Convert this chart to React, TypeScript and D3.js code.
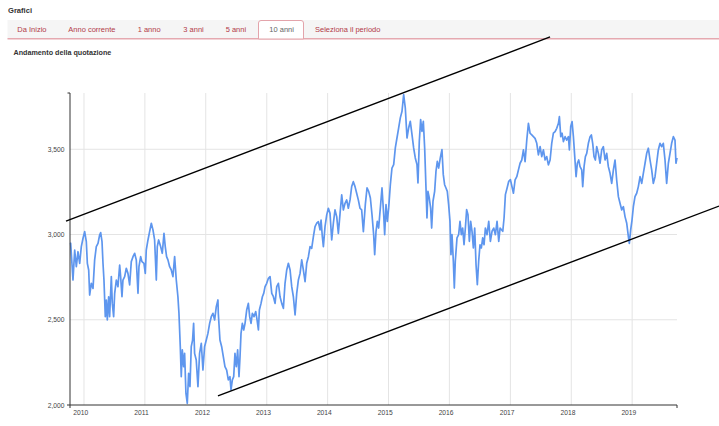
import React from "react";
import * as d3 from "d3";

// ---------- DATA ----------
const years: number[] = [
2009.770,2009.781,2009.819,2009.847,2009.874,2009.901,2009.929,2009.956,2009.984,2010.011,2010.038,2010.055,2010.077,2010.093,2010.120,2010.148,2010.175,2010.202,2010.230,2010.257,2010.274,2010.296,2010.312,2010.328,2010.350,2010.367,2010.383,2010.405,2010.421,2010.449,2010.465,2010.487,2010.504,2010.531,2010.558,2010.586,2010.602,2010.624,2010.640,2010.668,2010.695,2010.722,2010.750,2010.777,2010.805,2010.832,2010.859,2010.887,2010.903,2010.931,2010.952,2010.985,
2011.007,2011.023,2011.051,2011.078,2011.106,2011.133,2011.160,2011.188,2011.204,2011.226,2011.259,2011.286,2011.314,2011.335,2011.357,2011.379,2011.407,2011.434,2011.461,2011.489,2011.516,2011.543,2011.560,2011.582,2011.598,2011.615,2011.637,2011.653,2011.675,2011.697,2011.719,2011.741,2011.762,2011.784,2011.801,2011.817,2011.844,2011.872,2011.899,2011.927,2011.954,2011.981,
2012.009,2012.036,2012.064,2012.091,2012.118,2012.146,2012.173,2012.200,2012.206,2012.233,2012.261,2012.288,2012.315,2012.343,2012.370,2012.397,2012.414,2012.436,2012.458,2012.479,2012.501,2012.523,2012.545,2012.562,2012.578,2012.600,2012.622,2012.644,2012.671,2012.698,2012.720,2012.742,2012.764,2012.791,2012.819,2012.841,2012.863,2012.879,2012.906,2012.928,2012.950,2012.972,2012.999,
2013.027,2013.054,2013.082,2013.109,2013.136,2013.164,2013.191,2013.218,2013.246,2013.273,2013.300,2013.328,2013.355,2013.383,2013.410,2013.437,2013.465,2013.492,2013.519,2013.547,2013.574,2013.601,2013.629,2013.656,2013.684,2013.711,2013.738,2013.766,2013.793,2013.820,2013.848,2013.875,2013.892,2013.913,2013.930,2013.957,2013.985,
2014.012,2014.039,2014.067,2014.094,2014.121,2014.149,2014.176,2014.204,2014.231,2014.258,2014.286,2014.313,2014.340,2014.368,2014.395,2014.422,2014.450,2014.477,2014.504,2014.532,2014.559,2014.587,2014.619,2014.647,2014.674,2014.702,2014.729,2014.756,2014.773,2014.795,2014.816,2014.838,2014.866,2014.893,2014.921,2014.937,2014.959,2014.981,
2015.003,2015.030,2015.057,2015.085,2015.112,2015.139,2015.167,2015.194,2015.222,2015.249,2015.276,2015.304,2015.331,2015.358,2015.386,2015.413,2015.440,2015.468,2015.484,2015.506,2015.528,2015.550,2015.572,2015.594,2015.616,2015.632,2015.648,2015.670,2015.692,2015.709,2015.731,2015.758,2015.780,2015.802,2015.824,2015.851,2015.878,2015.900,2015.922,2015.944,2015.966,2015.988,
2016.010,2016.026,2016.043,2016.065,2016.081,2016.097,2016.125,2016.152,2016.174,2016.196,2016.218,2016.240,2016.262,2016.283,2016.305,2016.327,2016.349,2016.371,2016.393,2016.415,2016.437,2016.458,2016.480,2016.502,2016.524,2016.546,2016.568,2016.590,2016.617,2016.645,2016.672,2016.699,2016.727,2016.754,2016.781,2016.809,2016.831,2016.853,2016.875,2016.896,2016.918,2016.946,2016.973,
2017.000,2017.050,2017.077,2017.105,2017.132,2017.159,2017.187,2017.214,2017.241,2017.269,2017.296,2017.323,2017.351,2017.378,2017.405,2017.433,2017.460,2017.488,2017.515,2017.542,2017.570,2017.597,2017.624,2017.652,2017.679,2017.706,2017.734,2017.761,2017.789,2017.805,2017.827,2017.849,2017.871,2017.898,2017.925,2017.953,2017.969,2017.991,
2018.013,2018.035,2018.057,2018.079,2018.100,2018.122,2018.144,2018.172,2018.188,2018.210,2018.232,2018.254,2018.281,2018.309,2018.330,2018.352,2018.374,2018.396,2018.418,2018.445,2018.473,2018.500,2018.527,2018.555,2018.582,2018.609,2018.637,2018.664,2018.692,2018.719,2018.746,2018.774,2018.801,2018.829,2018.856,2018.883,2018.911,2018.938,2018.954,2018.976,2018.998,
2019.020,2019.047,2019.075,2019.102,2019.130,2019.157,2019.184,2019.212,2019.239,2019.266,2019.294,2019.321,2019.348,2019.376,2019.403,2019.430,2019.458,2019.485,2019.512,2019.540,2019.567,2019.595,2019.622,2019.649,2019.677,2019.704,2019.720,2019.737
];

const closes: number[] = [
2950,2948,2733,2909,2811,2899,2831,2929,2978,3017,2958,2831,2792,2645,2714,2684,2851,2929,2948,2997,3011,2958,2831,2733,2518,2616,2499,2635,2518,2753,2596,2518,2655,2733,2694,2821,2753,2635,2733,2753,2802,2772,2704,2841,2870,2890,2851,2655,2811,2870,2841,2831,
2772,2909,2968,3017,3066,3027,2968,2733,2929,2968,2929,2890,3007,2929,2870,2851,2811,2792,2753,2870,2733,2635,2538,2342,2166,2323,2225,2303,2068,2010,2186,2108,2342,2381,2479,2303,2264,2108,2303,2362,2205,2342,
2381,2420,2479,2518,2538,2499,2577,2616,2538,2381,2342,2284,2225,2205,2147,2166,2088,2147,2166,2303,2225,2323,2166,2284,2420,2479,2440,2479,2557,2596,2518,2479,2538,2518,2548,2499,2440,2557,2596,2635,2655,2694,2714,
2743,2753,2655,2635,2596,2694,2714,2635,2596,2567,2714,2792,2831,2792,2694,2635,2528,2655,2733,2772,2851,2792,2723,2831,2870,2929,2919,2987,3046,3066,3075,3027,3085,2987,2929,3046,3115,
3154,3124,2968,3066,3144,3105,3007,3124,3232,3144,3183,3203,3154,3203,3281,3310,3281,3242,3203,3154,3144,3017,3175,3273,3253,3214,3116,2999,2882,3019,3077,3038,3156,3273,3116,2999,3175,3077,
3156,3292,3390,3410,3508,3566,3625,3684,3723,3820,3742,3566,3625,3664,3586,3508,3449,3410,3302,3547,3674,3605,3664,3508,3273,3097,3253,3214,3156,3038,3195,3253,3371,3429,3390,3449,3498,3351,3292,3273,3253,3175,
3077,2882,2999,2843,2686,2843,2980,2999,3077,2999,3038,2940,3038,3146,3116,2960,3077,3019,2921,3038,2823,2706,2843,2940,2921,2980,2940,3038,2999,3077,2960,3019,3038,2999,3077,2960,3038,3028,3019,3097,3234,3273,3312,
3322,3242,3320,3339,3379,3418,3437,3496,3427,3554,3652,3594,3584,3574,3564,3535,3467,3515,3457,3496,3437,3457,3408,3437,3535,3594,3603,3623,3652,3691,3574,3594,3545,3574,3554,3574,3496,3633,
3662,3574,3457,3339,3418,3437,3398,3379,3281,3398,3457,3476,3535,3574,3584,3535,3457,3437,3515,3476,3418,3496,3515,3437,3476,3398,3359,3300,3379,3437,3320,3222,3183,3144,3163,3105,3066,2987,2948,3027,3085,
3163,3222,3242,3281,3339,3300,3359,3418,3476,3506,3437,3379,3300,3339,3418,3496,3535,3515,3535,3437,3300,3418,3476,3535,3574,3554,3418,3450
];

// trend channel lines (decimal year, value)
const upperTrendYears = [2009.704, 2017.652];
const upperTrendValues = [3079, 4159];
const lowerTrendYears = [2012.200, 2020.427];
const lowerTrendValues = [2053, 3167];

const yTicks = [2000, 2500, 3000, 3500];
const xTickYears = [2010, 2011, 2012, 2013, 2014, 2015, 2016, 2017, 2018, 2019];
const yDomain = [2000, 3830];
const xDomainYears = [2009.770, 2019.737];

const title = "Grafici";
const tabs = ["Da Inizio", "Anno corrente", "1 anno", "3 anni", "5 anni", "10 anni", "Seleziona il periodo"];
const activeTab = "10 anni";
const subtitle = "Andamento della quotazione";

// ---------- LAYOUT ----------
const W = 719, H = 426;
const M = { left: 70, right: 677, top: 93, bottom: 405 };
const tabX = [17.3, 68.3, 137.7, 183.3, 225.7, 269.3, 315];
const FONT = "'Liberation Sans', Arial, sans-serif";

function decToDate(d: number): Date {
  const y = Math.floor(d);
  const s = Date.UTC(y, 0, 1);
  const e = Date.UTC(y + 1, 0, 1);
  return new Date(s + (d - y) * (e - s));
}

export default function App() {
  const x = d3.scaleUtc()
    .domain([decToDate(xDomainYears[0]), decToDate(xDomainYears[1])])
    .range([M.left, M.right]);
  const y = d3.scaleLinear().domain(yDomain).range([M.bottom, M.top]);

  const pts = years.map((t, i) => ({ d: decToDate(t), v: closes[i] }));
  const line = d3.line<{ d: Date; v: number }>().x(p => x(p.d)).y(p => y(p.v));
  const trend = (ys: number[], vs: number[]) =>
    line(ys.map((t, i) => ({ d: decToDate(t), v: vs[i] }))) || "";

  const fmt = d3.format(",");

  return (
    <svg width={W} height={H} style={{ position: "absolute", left: 0, top: 0, background: "#fff" }}
      fontFamily={FONT}>
      <rect x={0} y={0} width={W} height={H} fill="#fff" />
      <text x={8} y={10} fontSize={7.6} fontWeight="bold" fill="#333" dominantBaseline="central">{title}</text>

      {/* tab bar */}
      <rect x={7.5} y={20} width={W - 7.5} height={19} fill="#f5f5f5" />
      <line x1={7.5} x2={W} y1={38.8} y2={38.8} stroke="#e5a9b0" strokeWidth={1.5} />
      <path d="M258.5,39 L258.5,23 Q258.5,20.5 261,20.5 L301,20.5 Q303.5,20.5 303.5,23 L303.5,39 Z"
        fill="#fff" stroke="#e3a4ab" strokeWidth={1} />
      {tabs.map((t, i) => (
        <text key={t} x={tabX[i]} y={29.5} fontSize={7.5} dominantBaseline="central"
          fill={t === activeTab ? "#666" : "#b23a48"}>{t}</text>
      ))}
      <text x={13.5} y={52.7} fontSize={7.2} fontWeight="bold" fill="#333" dominantBaseline="central">{subtitle}</text>

      {/* gridlines */}
      {xTickYears.map(t => (
        <line key={"gx" + t} x1={x(decToDate(t))} x2={x(decToDate(t))} y1={M.top} y2={M.bottom}
          stroke="#e4e4e4" strokeWidth={1} />
      ))}
      {yTicks.filter(v => v > yDomain[0]).map(v => (
        <line key={"gy" + v} x1={M.left} x2={M.right} y1={y(v)} y2={y(v)} stroke="#e4e4e4" strokeWidth={1} />
      ))}

      {/* series */}
      <path d={line(pts) || ""} fill="none" stroke="#5e96ee" strokeWidth={1.7} strokeLinejoin="round" />

      {/* axes */}
      <line x1={M.left} x2={M.left} y1={M.top} y2={M.bottom} stroke="#333" strokeWidth={1} />
      <line x1={M.left - 2.5} x2={M.left} y1={M.top} y2={M.top} stroke="#333" strokeWidth={1} />
      <line x1={M.left} x2={M.right} y1={M.bottom} y2={M.bottom} stroke="#333" strokeWidth={1} />
      <line x1={M.left} x2={M.left} y1={M.bottom} y2={M.bottom + 3} stroke="#333" strokeWidth={1} />
      <line x1={M.right} x2={M.right} y1={M.bottom} y2={M.bottom + 3} stroke="#333" strokeWidth={1} />
      {yTicks.map(v => (
        <g key={"ty" + v}>
          {v === yDomain[0] && <line x1={M.left - 3} x2={M.left} y1={y(v)} y2={y(v)} stroke="#333" />}
          <text x={64.5} y={y(v)} fontSize={6.7} fill="#444" textAnchor="end" dominantBaseline="central">{fmt(v)}</text>
        </g>
      ))}
      {xTickYears.map(t => (
        <text key={"tx" + t} x={x(decToDate(t)) - 3.3} y={412} fontSize={6.7} fill="#444"
          textAnchor="middle" dominantBaseline="central">{t}</text>
      ))}

      {/* trend channel */}
      <path d={trend(upperTrendYears, upperTrendValues)} stroke="#000" strokeWidth={1.4} fill="none" />
      <path d={trend(lowerTrendYears, lowerTrendValues)} stroke="#000" strokeWidth={1.4} fill="none" />
    </svg>
  );
}
